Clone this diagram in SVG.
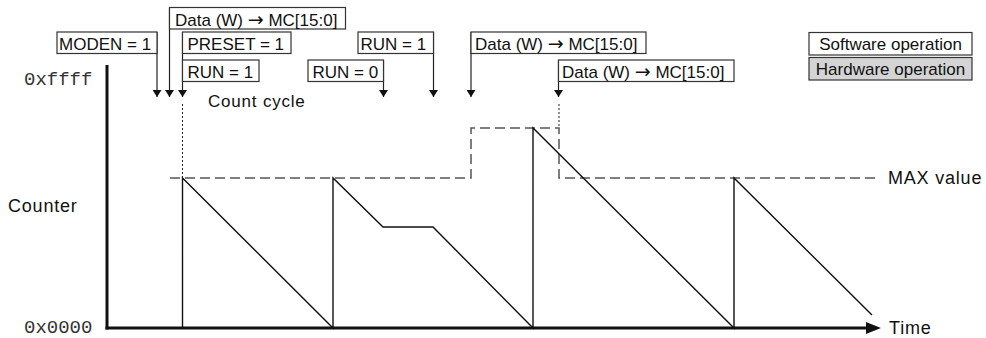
<svg xmlns="http://www.w3.org/2000/svg" width="986" height="338" viewBox="0 0 986 338">
<style>
text{font-family:"Liberation Sans",Arial,sans-serif;fill:#111}
.lbl{font-size:17px}
.arr{font-family:"DejaVu Sans",sans-serif;font-size:19px}
.big{font-size:18px;letter-spacing:0.8px}
.mono{font-family:"Liberation Mono","Courier New",monospace;font-size:19px;fill:#333}
.box{fill:#fff;stroke:#333;stroke-width:1.2}
.hw{fill:#d4d4d4;stroke:#333;stroke-width:1.2}
.lead{fill:none;stroke:#222;stroke-width:1.2}
.ah{fill:#111}
.dot{fill:none;stroke:#222;stroke-width:1;stroke-dasharray:2 2}
.dash{fill:none;stroke:#555;stroke-width:1.5;stroke-dasharray:10 5}
.ramp{fill:none;stroke:#111;stroke-width:1.4;stroke-linejoin:miter}
.axis{fill:none;stroke:#111;stroke-width:3}
</style>
<defs>
<marker id="tri" markerWidth="9" markerHeight="7" refX="4.5" refY="7" orient="0" markerUnits="userSpaceOnUse">
<path d="M0,0 L9,0 L4.5,7 Z" fill="#111"/>
</marker>
</defs>

<g id="axes">
<line class="axis" x1="107" y1="65" x2="107" y2="329.5"/>
<line class="axis" x1="105.5" y1="328" x2="868" y2="328"/>
<polygon class="ah" points="866,322 881,328 866,334"/>
<text class="mono" x="24" y="85">0xffff</text>
<text class="mono" x="24" y="333">0x0000</text>
<text class="big" x="8" y="212">Counter</text>
<text class="big" x="889" y="334">Time</text>
</g>

<g id="max-level">
<path class="dash" d="M170,178 H471 V128 H559 V178 H875"/>
<text class="big" x="888" y="184">MAX value</text>
</g>

<g id="counter-trace">
<path class="ramp" d="M182.5,328 V178 L333,328 V178 L383,227 H433 L533,328 V128 L734,328 V178 L872,315"/>
</g>

<g id="connectors">
<path class="lead" d="M157,32 V97" marker-end="url(#tri)"/>
<path class="lead" d="M169.5,8 V97" marker-end="url(#tri)"/>
<path class="lead" d="M182.5,32 V97" marker-end="url(#tri)"/>
<path class="lead" d="M383.5,60 V97" marker-end="url(#tri)"/>
<path class="lead" d="M433.5,32 V97" marker-end="url(#tri)"/>
<path class="lead" d="M471,32 V97" marker-end="url(#tri)"/>
<path class="lead" d="M558.5,60 V97" marker-end="url(#tri)"/>
<line class="dot" x1="182.5" y1="104" x2="182.5" y2="178"/>
<line class="dot" x1="559" y1="104" x2="559" y2="128"/>
</g>

<g id="count-cycle">
<text class="lbl" x="208" y="107" style="letter-spacing:0.8px">Count cycle</text>
</g>

<g id="n-moden">
<rect class="box" x="57" y="32" width="100" height="21.5"/>
<text class="lbl" x="59" y="50">MODEN = 1</text>
</g>
<g id="n-data1">
<rect class="box" x="169.5" y="7.5" width="176" height="21.5"/>
<text class="lbl" x="175" y="26">Data (W) <tspan class="arr">→</tspan> MC[15:0]</text>
</g>
<g id="n-preset">
<rect class="box" x="182.5" y="32" width="108.5" height="21.5"/>
<text class="lbl" x="187.5" y="50">PRESET = 1</text>
</g>
<g id="n-run1a">
<rect class="box" x="182.5" y="60" width="76.5" height="21.5"/>
<text class="lbl" x="187.5" y="78">RUN = 1</text>
</g>
<g id="n-run0">
<rect class="box" x="308" y="60" width="75.5" height="21.5"/>
<text class="lbl" x="312.5" y="78">RUN = 0</text>
</g>
<g id="n-run1b">
<rect class="box" x="358" y="32" width="75.5" height="21.5"/>
<text class="lbl" x="360.5" y="50">RUN = 1</text>
</g>
<g id="n-data2">
<rect class="box" x="471" y="32" width="175" height="21.5"/>
<text class="lbl" x="475" y="50">Data (W) <tspan class="arr">→</tspan> MC[15:0]</text>
</g>
<g id="n-data3">
<rect class="box" x="558.5" y="60" width="175.5" height="21.5"/>
<text class="lbl" x="562" y="78">Data (W) <tspan class="arr">→</tspan> MC[15:0]</text>
</g>

<g id="legend-sw">
<rect class="box" x="809" y="32.5" width="163" height="22.5"/>
<text class="lbl" x="890.5" y="50" text-anchor="middle">Software operation</text>
</g>
<g id="legend-hw">
<rect class="hw" x="809" y="57.5" width="163" height="22.5"/>
<text class="lbl" x="890.5" y="75" text-anchor="middle">Hardware operation</text>
</g>
</svg>
